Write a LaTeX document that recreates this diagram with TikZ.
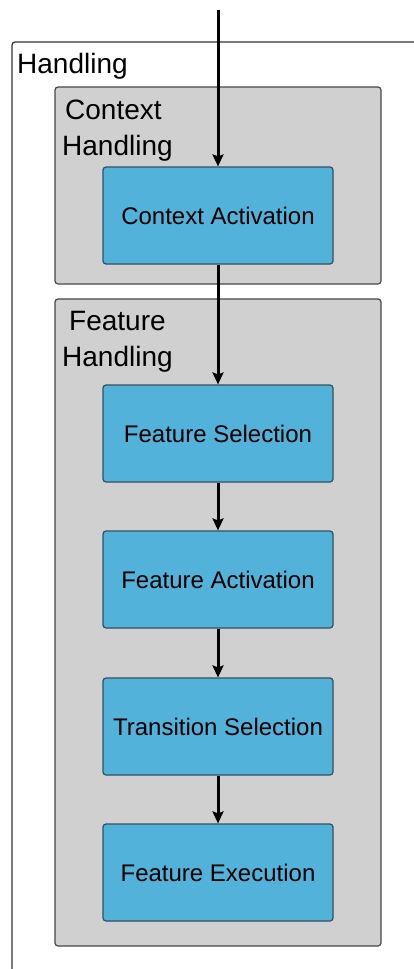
\documentclass[tikz,border=0pt]{standalone}
\usepackage{fontspec}
\setmainfont{Liberation Sans}
\usetikzlibrary{arrows.meta}

\definecolor{stepblue}{HTML}{52B2D9}
\definecolor{stepedge}{HTML}{34505E}
\definecolor{groupfill}{HTML}{D0D0D0}
\definecolor{groupedge}{HTML}{474747}
\definecolor{frameedge}{HTML}{333333}

\tikzset{
  stepbox/.style={draw=stepedge, fill=stepblue, line width=1.2pt,
    rounded corners=3pt, minimum width=230pt, minimum height=97pt,
    inner sep=0pt, font=\fontsize{24}{28}\selectfont},
  groupbox/.style={draw=groupedge, fill=groupfill, line width=1.2pt,
    rounded corners=3pt, inner sep=0pt},
  grouplabel/.style={anchor=base west, inner sep=0pt,
    font=\fontsize{28}{34}\selectfont},
  flow/.style={line width=3pt, draw=black,
    -{Stealth[length=12pt, width=11pt, inset=2pt]}}
}

\begin{document}
\begin{tikzpicture}[x=1pt, y=-1pt]
  \useasboundingbox (0,0) rectangle (414,969);
  \clip (0,0) rectangle (414,969);
  \fill[white] (0,0) rectangle (414,969);

  % outer "Handling" frame, open to the right and bottom
  \draw[frameedge, line width=1.3pt, rounded corners=3pt]
    (12,980) -- (12,42) -- (430,42);
  \node[grouplabel] (lblhandling) at (17,73) {Handling};

  % group containers
  \node[groupbox, minimum width=326pt, minimum height=197pt]
    (ctxgroup) at (218,185.5) {};
  \node[groupbox, minimum width=326pt, minimum height=647pt]
    (feagroup) at (218,622.5) {};

  \node[grouplabel] (lblctxa) at (65,119) {Context};
  \node[grouplabel] (lblctxb) at (62,155) {Handling};
  \node[grouplabel] (lblfeaa) at (69,330) {Feature};
  \node[grouplabel] (lblfeab) at (62,366) {Handling};

  % processing steps
  \node[stepbox] (ctxact) at (218,215.5) {Context Activation};
  \node[stepbox] (fsel)   at (218,433.5) {Feature Selection};
  \node[stepbox] (fact)   at (218,579.5) {Feature Activation};
  \node[stepbox] (tsel)   at (218,726.5) {Transition Selection};
  \node[stepbox] (fexec)  at (218,872.5) {Feature Execution};

  % flow between steps
  \coordinate (entry) at (218,10);
  \draw[flow] (entry) -- (ctxact.north);
  \draw[flow] (ctxact.south) -- (fsel.north);
  \draw[flow] (fsel.south) -- (fact.north);
  \draw[flow] (fact.south) -- (tsel.north);
  \draw[flow] (tsel.south) -- (fexec.north);
\end{tikzpicture}
\end{document}
